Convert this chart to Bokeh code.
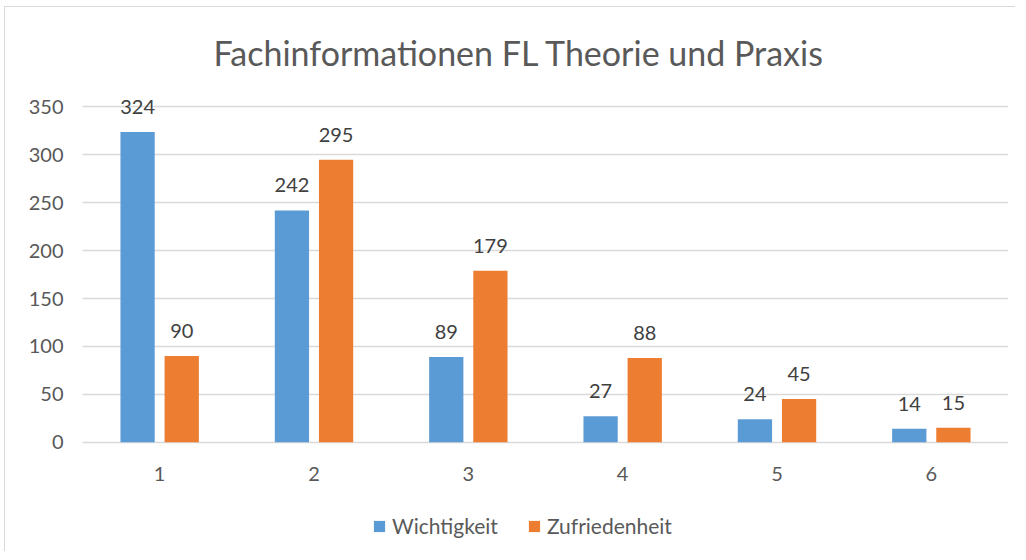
from bokeh.plotting import figure
from bokeh.layouts import column
from bokeh.models import ColumnDataSource, FactorRange, Range1d, Legend, LegendItem, FixedTicker
from bokeh.transform import dodge
from bokeh.embed import file_html
from bokeh.resources import INLINE
from bokeh.core.properties import value

categories = ["1", "2", "3", "4", "5", "6"]
wichtigkeit = [324, 242, 89, 27, 24, 14]
zufriedenheit = [90, 295, 179, 88, 45, 15]
series_names = ["Wichtigkeit", "Zufriedenheit"]
y_ticks = [0, 50, 100, 150, 200, 250, 300, 350]
colors = ["#5B9BD5", "#ED7D31"]

FONT = "Lato"
src = ColumnDataSource(dict(cat=categories, w=wichtigkeit, z=zufriedenheit,
                            wl=[str(v) for v in wichtigkeit], zl=[str(v) for v in zufriedenheit],
                            base=[0] * len(categories)))

# frame spans down to the bottom of the figure so the legend can sit inside it
p = figure(width=1010, height=544, x_range=FactorRange(*categories, range_padding=0),
           y_range=Range1d(-114.2, 362), output_backend="svg", toolbar_location=None,
           x_axis_location=None,
           min_border_left=77, min_border_right=7, min_border_top=88, min_border_bottom=0)
p.outline_line_color = None
p.border_fill_color = "white"

p.title.text = "Fachinformationen FL Theorie und Praxis"
p.title.align = "left"
p.title.offset = 131
p.title.text_font = FONT
p.title.text_font_size = "34px"
p.title.text_font_style = "normal"
p.title.text_color = "#595959"
p.title.standoff = 45

bw = p.vbar(x=dodge("cat", -0.143, range=p.x_range), top="w", width=0.222, source=src,
            fill_color=colors[0], line_color=None)
bz = p.vbar(x=dodge("cat", 0.143, range=p.x_range), top="z", width=0.222, source=src,
            fill_color=colors[1], line_color=None)

for col, lab, off in (("w", "wl", -0.143), ("z", "zl", 0.143)):
    p.text(x=dodge("cat", off, range=p.x_range), y=col, text=lab, source=src,
           text_align="center", text_baseline="middle", y_offset=-25,
           text_font=value(FONT), text_font_size="20px", text_color="#404040")

# category labels under the baseline
p.text(x="cat", y="base", text="cat", source=src, text_align="center", text_baseline="middle",
       y_offset=32, text_font=value(FONT), text_font_size="20px", text_color="#595959")

p.yaxis.ticker = FixedTicker(ticks=y_ticks)
p.yaxis.axis_line_color = None
p.yaxis.major_tick_line_color = None
p.yaxis.minor_tick_line_color = None
p.yaxis.major_tick_out = 0
p.yaxis.major_tick_in = 0
p.yaxis.major_label_text_font = FONT
p.yaxis.major_label_text_font_size = "20px"
p.yaxis.major_label_text_color = "#595959"
p.yaxis.major_label_standoff = 19
p.xgrid.grid_line_color = None
p.ygrid.grid_line_color = "#d9d9d9"
p.ygrid.grid_line_width = 1.3

legend = Legend(items=[LegendItem(label=series_names[0], renderers=[bw]),
                       LegendItem(label=series_names[1], renderers=[bz])],
                orientation="horizontal", location=(290, 13), border_line_color=None,
                background_fill_alpha=0,
                label_text_font=FONT, label_text_font_size="21px", label_text_color="#595959",
                glyph_width=14, glyph_height=14, spacing=29, margin=0, padding=0,
                label_standoff=6)
p.add_layout(legend)

layout = column(p, spacing=0, margin=(6, 0, 0, 4),
                styles={"border-top": "1px solid #d9d9d9", "border-left": "1px solid #d9d9d9"})

open("out.html", "w").write(file_html(layout, INLINE))
